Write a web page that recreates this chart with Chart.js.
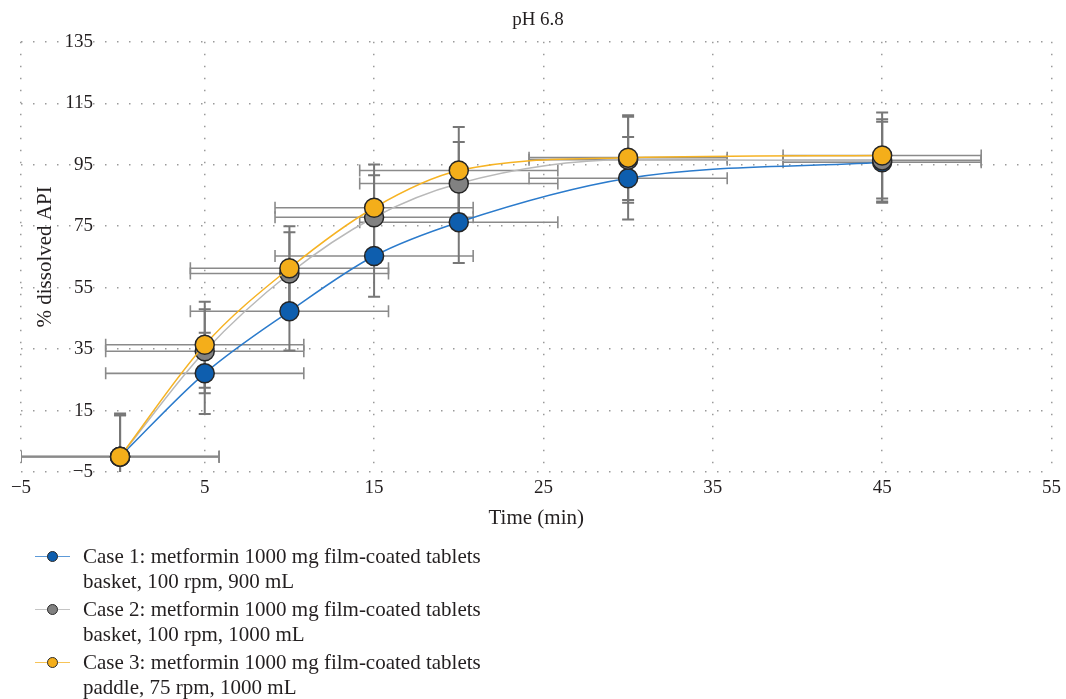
<!DOCTYPE html>
<html><head><meta charset="utf-8">
<script src="https://cdn.jsdelivr.net/npm/chart.js@4.4.1/dist/chart.umd.min.js"></script>
<style>
html,body{margin:0;padding:0;background:#fff;}
#wrap{position:relative;width:1066px;height:699px;overflow:hidden;background:#fff;}
#chartBox{position:absolute;left:0;top:0;width:1066px;height:535px;}
#legend{position:absolute;left:0;top:0;width:1066px;height:699px;pointer-events:none;font-family:"Liberation Serif","Times New Roman",serif;font-size:21px;color:#231f20;}
.item{position:absolute;left:83px;line-height:25px;white-space:nowrap;}
.sym{position:absolute;left:35px;width:35px;height:0;}
.dot{position:absolute;left:47px;width:9px;height:9px;border-radius:50%;border:1px solid #2a2a2a;}
</style>
</head><body>
<div id="wrap">
  <div id="chartBox"><canvas id="c"></canvas></div>
  <div id="legend"></div>
</div>
<script>
// ---- data ----
const times = [0, 5, 10, 15, 20, 30, 45];
const case1 = [0, 27.1, 47.3, 65.3, 76.3, 90.6, 95.8];
const case2 = [0, 34.3, 59.6, 77.9, 88.9, 96.6, 96.4];
const case3 = [0, 36.4, 61.3, 81.0, 93.1, 97.3, 98.0];
const case1Err = [14.0, 13.2, 12.8, 13.3, 13.3, 13.4, 13.2];
const case2Err = [13.5, 13.7, 13.4, 13.7, 13.5, 14.0, 13.4];
const case3Err = [13.5, 14.0, 13.7, 14.1, 14.2, 13.8, 14.0];
const timeErr1 = [5.85, 5.85, 5.85, 5.85, 5.85, 5.85, 5.85];
const timeErr2 = [5.85, 5.85, 5.85, 5.85, 5.85, 5.85, 5.85];
const timeErr3 = [5.85, 5.85, 5.85, 5.85, 5.85, 5.85, 5.85];
const seriesNames = [
  ["Case 1: metformin 1000 mg film-coated tablets", "basket, 100 rpm, 900 mL"],
  ["Case 2: metformin 1000 mg film-coated tablets", "basket, 100 rpm, 1000 mL"],
  ["Case 3: metformin 1000 mg film-coated tablets", "paddle, 75 rpm, 1000 mL"]
];
const xTickLabels = ["\u22125", "5", "15", "25", "35", "45", "55"];
const xTickValues = [5, 15, 25, 35, 45, 55];
const titleText = "pH 6.8";
const xTitle = "Time (min)";
const yTitle = "% dissolved API";

// ---- styles ----
const lineColors = ["#2b7bcc", "#b9b9b9", "#f6b324"];
const legendLineColors = ["#5d9ad8", "#c4c4c4", "#f7c458"];
const markerColors = ["#0e5eae", "#818181", "#f4ae1a"];
const FONT = '"Liberation Serif", "Times New Roman", serif';
const TEXT = "#231f20";

function build(ys, ye, xe) {
  return times.map((t, i) => ({ x: t, y: ys[i], yErr: ye[i], xErr: xe[i] }));
}
const allY = [case1, case2, case3], allYE = [case1Err, case2Err, case3Err], allXE = [timeErr1, timeErr2, timeErr3];

const datasets = allY.map((ys, i) => ({
  label: seriesNames[i].join(" "),
  data: build(ys, allYE[i], allXE[i]),
  borderColor: lineColors[i],
  borderWidth: 1.5,
  backgroundColor: markerColors[i],
  pointBackgroundColor: markerColors[i],
  pointBorderColor: "#262626",
  pointBorderWidth: 1.5,
  pointRadius: 9.5,
  pointHoverRadius: 9.5,
  cubicInterpolationMode: "monotone",
  order: 3 - i
}));

const errorBars = {
  id: "errorBars",
  beforeDatasetsDraw(chart) {
    const { ctx, chartArea: a, scales: { x, y } } = chart;
    ctx.save();
    ctx.beginPath();
    ctx.rect(a.left, a.top, a.right - a.left, a.bottom - a.top);
    ctx.clip();
    const cap = 6;
    // horizontal bars
    ctx.strokeStyle = "#8a8a8a";
    ctx.lineWidth = 1.6;
    chart.data.datasets.forEach(ds => ds.data.forEach(p => {
      const py = y.getPixelForValue(p.y);
      const xl = x.getPixelForValue(p.x - p.xErr), xr = x.getPixelForValue(p.x + p.xErr);
      ctx.beginPath();
      ctx.moveTo(xl, py); ctx.lineTo(xr, py);
      ctx.moveTo(xl, py - cap); ctx.lineTo(xl, py + cap);
      ctx.moveTo(xr, py - cap); ctx.lineTo(xr, py + cap);
      ctx.stroke();
    }));
    // vertical bars
    ctx.strokeStyle = "#777777";
    ctx.lineWidth = 2;
    chart.data.datasets.forEach(ds => ds.data.forEach(p => {
      const px = x.getPixelForValue(p.x);
      const yt = y.getPixelForValue(p.y + p.yErr), yb = y.getPixelForValue(p.y - p.yErr);
      ctx.beginPath();
      ctx.moveTo(px, yt); ctx.lineTo(px, yb);
      ctx.moveTo(px - cap, yt); ctx.lineTo(px + cap, yt);
      ctx.moveTo(px - cap, yb); ctx.lineTo(px + cap, yb);
      ctx.stroke();
    }));
    ctx.restore();

    // y tick labels (drawn inside the plot, right-aligned) and y title
    ctx.save();
    ctx.fillStyle = TEXT;
    ctx.font = "19px " + FONT;
    ctx.textAlign = "right";
    ctx.textBaseline = "middle";
    y.ticks.forEach(t => {
      const lbl = t.value < 0 ? "\u2212" + Math.abs(t.value) : String(t.value);
      ctx.fillText(lbl, a.left + 72, y.getPixelForValue(t.value));
    });
    ctx.translate(a.left + 24, (a.top + a.bottom) / 2);
    ctx.rotate(-Math.PI / 2);
    ctx.textAlign = "center";
    ctx.font = "21px " + FONT;
    ctx.fillText(yTitle, 0, 0);
    ctx.restore();
  }
};

new Chart(document.getElementById("c"), {
  type: "line",
  data: { datasets },
  plugins: [errorBars],
  options: {
    responsive: true,
    maintainAspectRatio: false,
    animation: false,
    events: [],
    layout: { padding: { left: 21, right: 11, top: 0, bottom: 4 } },
    scales: {
      x: {
        type: "linear",
        min: -5.85,
        max: 55,
        afterBuildTicks(scale) {
          scale.ticks = [{ value: scale.min }].concat(xTickValues.map(v => ({ value: v })));
        },
        grid: { color: "#9a9a9a", lineWidth: 1.5, drawTicks: false },
        border: { display: false, dash: [1.5, 10.5] },
        ticks: {
          color: TEXT, font: { family: FONT, size: 19 }, padding: 5, maxRotation: 0, autoSkip: false,
          callback: (v, i) => xTickLabels[i]
        },
        title: { display: true, text: xTitle, color: TEXT, font: { family: FONT, size: 21 }, padding: { top: 1, bottom: 0 } }
      },
      y: {
        min: -5,
        max: 135,
        grid: { color: "#9a9a9a", lineWidth: 1.5, drawTicks: false },
        border: { display: false, dash: [1.5, 10.5] },
        ticks: { display: false, stepSize: 20 }
      }
    },
    plugins: {
      legend: { display: false },
      tooltip: { enabled: false },
      title: { display: true, text: titleText, color: TEXT, font: { family: FONT, size: 19, weight: "normal" }, padding: { top: 9, bottom: 10 } }
    }
  }
});

// HTML legend
const lg = document.getElementById("legend");
seriesNames.forEach((lines, i) => {
  const top = 544 + i * 53;
  const it = document.createElement("div");
  it.className = "item";
  it.style.top = top + "px";
  it.innerHTML = lines.join("<br>");
  lg.appendChild(it);
  const s = document.createElement("div");
  s.className = "sym";
  s.style.top = (top + 12) + "px";
  s.style.borderTop = "1.5px solid " + legendLineColors[i];
  lg.appendChild(s);
  const d = document.createElement("div");
  d.className = "dot";
  d.style.top = (top + 12.5 - 5.5) + "px";
  d.style.background = markerColors[i];
  lg.appendChild(d);
});
</script>
</body></html>
